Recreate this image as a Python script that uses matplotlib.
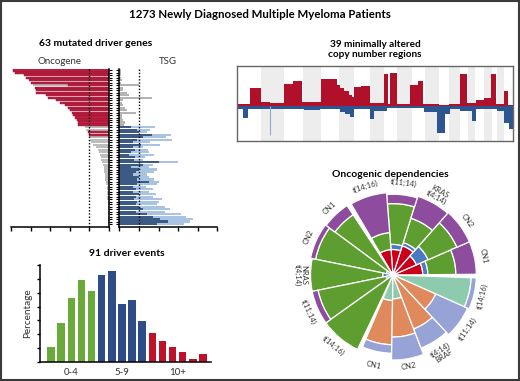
import numpy as np
import matplotlib
matplotlib.use("Agg")
import matplotlib.pyplot as plt
from matplotlib.patches import Rectangle

plt.rcParams['font.family'] = ['Lato', 'DejaVu Sans']

# ---------------- data ----------------
# 63 driver genes: oncogene score (left) and TSG score (right), top to bottom
onc_total = [4.9, 4.8, 4.35, 4.25, 4.1, 4.0, 3.9, 3.8, 3.75, 3.7,
             3.2, 3.1, 2.7, 2.5, 2.25, 2.1, 2.0, 1.87, 1.84, 1.75,
             1.63, 1.58, 1.56, 1.24, 1.15, 1.07, 1.0, 1.0, 0.95, 0.9,
             0.82, 0.65, 0.56, 0.5, 0.48, 0.4, 0.4, 0.34, 0.3, 0.27,
             0.25, 0.25, 0.22, 0.2, 0.18, 0.15, 0.15, 0.12, 0.12, 0.1,
             0.1, 0.08, 0.08, 0.06, 0.06, 0.05, 0.05, 0.05, 0.04, 0.04,
             0.03, 0.03, 0.03]
onc_red = [4.9, 4.8, 4.35, 4.25, 4.1, 4.0, 2.1, 3.8, 3.75, 3.7,
           3.2, 3.1, 2.7, 2.5, 2.25, 2.1, 2.0, 1.87, 1.84, 1.75,
           1.63, 1.58, 1.56, 0, 0, 1.07, 1.0] + [0] * 36
tsg_light = [0.1, 0.08, 0.1, 0.1, 0.15, 0.1, 1.0, 0.2, 0.2, 0.4,
             0.5, 1.65, 0.2, 0.15, 0.2, 0.3, 0.4, 0.85, 0.15, 0.15,
             0.2, 0.3, 0.25,
             1.8, 1.57, 1.4, 2.66, 2.4, 2.7, 1.57, 2.1, 1.2, 1.45,
             1.5, 1.75, 1.3, 1.2, 3.0, 1.7, 1.5, 1.9, 1.75, 1.4,
             1.5, 1.75, 2.0, 1.9, 1.35, 1.7, 1.5, 1.85, 1.7, 2.2,
             2.0, 1.9, 2.35, 2.6, 2.35, 3.15, 3.4, 3.75, 3.6, 3.3]
tsg_dark = [0] * 23 + [
    0.6, 0.9, 1.0, 1.65, 1.2, 0.9, 0.7, 1.1, 0.7, 0.8,
    0.6, 0.5, 0.8, 0.75, 2.0, 1.2, 0.6, 1.0, 0.85, 0.7,
    1.0, 0.9, 1.5, 0.9, 0.7, 0.85, 0.7, 1.0, 0.85, 0.75,
    0.9, 0.85, 1.0, 1.2, 0.85, 1.4, 1.7, 2.1, 2.5, 1.9]

# driver events per patient (% of patients)
n_events = list(range(16))
pct_events = [2.2, 5.7, 9.2, 11.8, 10.2, 12.5, 13.2, 8.4, 8.9, 5.9,
              4.2, 3.0, 2.1, 1.5, 0.5, 1.2]
event_groups = ['0-4'] * 5 + ['5-9'] * 5 + ['10+'] * 6

# copy number profile along the genome (segment start, value)
gain_pos = [20, 60, 92, 120, 160, 188, 216, 272, 320, 330, 340, 355, 365,
            372, 392, 418, 460, 474, 480, 500, 540, 562, 578, 625, 655,
            688, 710, 738, 760, 782, 798, 820, 832, 848]
gain_val = [6, 56, 13, 10, 68, 76, 13, 81, 63, 55, 45, 35, 28,
            58, 62, 10, 96, 8, 100, 8, 65, 76, 6, 3, 6,
            96, 10, 18, 24, 98, 6, 45, 3, 3]
loss_pos = [20, 38, 52, 220, 270, 330, 345, 358, 372, 420, 430,
            470, 580, 620, 645, 660, 688, 725, 738, 800, 820, 835, 848]
loss_val = [10, 35, 8, 12, 10, 18, 25, 32, 8, 40, 15,
            5, 18, 80, 25, 10, 15, 45, 8, 15, 50, 70, 70]
spike_pos = [117.5]
spike_val = [87]
chrom_bands = [(92, 160), (218, 272), (325, 372), (420, 462), (500, 545),
               (583, 625), (655, 688), (712, 735), (760, 785), (800, 820)]

# oncogenic dependencies: three groups of five sectors
sector_labels = ['CN1', 'CN2', 'KRAS\nt(4;14)', 't(11;14)', 't(14;16)',
                 'CN1', 'CN2', 'NRAS\nt(4;14)', 't(11;14)', 't(14;16)',
                 'CN1', 'CN2', 't(4;14)\nBRAF', 't(11;14)', 't(14;16)']
sector_span = [23, 25, 24, 22, 26,
               20, 25, 23, 24, 29,
               22, 22, 22, 23, 22]
group_gap = [0.5, 3.0, 2.5]
# cumulative outer radius of each layer
kras_layers = {'#c8001c': [0.35, 0.30, 0.36, 0.30, 0.30],
               '#4b7ac0': [0.41, 0.45, 0.40, 0.36, 0.30],
               '#5e9e31': [0.74, 0.82, 0.70, 0.84, 0.50],
               '#8e4c9e': [0.98, 0.98, 0.97, 0.95, 0.97]}
nras_layers = {'#4b7ac0': [0.0, 0.08, 0.12, 0.08, 0.0],
               '#5e9e31': [0.85, 0.93, 0.97, 0.90, 0.97],
               '#8e4c9e': [0.98, 0.99, 0.97, 0.97, 0.97]}
braf_layers = {'#8ecbae': [0.30, 0.28, 0.0, 0.0, 0.92],
               '#e0895c': [0.82, 0.73, 0.68, 0.55, 0.92],
               '#97a2d6': [0.92, 1.0, 0.92, 0.96, 0.98]}

# ---------------- figure ----------------
W, H = 520, 381
fig = plt.figure(figsize=(W / 100, H / 100), dpi=100)
fig.patches.append(Rectangle((0.002, 0.003), 0.996, 0.994, transform=fig.transFigure,
                             fill=False, edgecolor='#3a3a3a', linewidth=1.5))


def px_axes(x0, y0, x1, y1, **kw):
    return fig.add_axes([x0 / W, 1 - y1 / H, (x1 - x0) / W, (y1 - y0) / H], **kw)


fig.text(0.5, 1 - 15 / H, '1273 Newly Diagnosed Multiple Myeloma Patients',
         ha='center', va='center', fontsize=8.3, fontweight='bold')

# ---- driver genes ----
rows = np.arange(len(onc_total))
axL = px_axes(11, 69, 109, 227)
axR = px_axes(119.3, 69, 217.3, 227)
axL.barh(rows, onc_total, height=0.85, color='#bdbdbd', linewidth=0)
axL.barh(rows, onc_red, height=0.85, color='#c21f3e', edgecolor='#7a1535', linewidth=0.3)
tsg_cols = ['#b3b3b3' if d == 0 else '#a9c4e2' for d in tsg_dark]
axR.barh(rows, tsg_light, height=0.85, color=tsg_cols, linewidth=0)
axR.barh(rows, tsg_dark, height=0.85, color='#3d5a85', linewidth=0)
for ax in (axL, axR):
    ax.set_ylim(63.2, -0.6)
    ax.axvline(1.0, color='black', linestyle=(0, (1, 1.3)), linewidth=1.0)
    ax.set_yticks(rows)
    ax.set_yticklabels([])
    ax.set_xticks(np.arange(6))
    ax.set_xticklabels([])
    ax.tick_params(axis='y', length=2.5, width=0.8, direction='out')
    ax.tick_params(axis='x', length=3, width=1, direction='out')
    ax.spines['top'].set_visible(False)
    for s in ax.spines.values():
        s.set_linewidth(1.1)
axL.set_xlim(5, 0)
axR.set_xlim(0, 5)
axL.spines['left'].set_visible(False)
axL.yaxis.tick_right()
axR.spines['right'].set_visible(False)

fig.text(96 / W, 1 - 43 / H, '63 mutated driver genes', ha='center', va='center',
         fontsize=7.5, fontweight='bold')
fig.text(59 / W, 1 - 61 / H, 'Oncogene', ha='center', va='center', fontsize=7, color='#333333')
fig.text(168 / W, 1 - 61 / H, 'TSG', ha='center', va='center', fontsize=7, color='#333333')

# ---- driver events histogram ----
axH = px_axes(40, 265, 211, 362)
group_cols = {'0-4': '#6aaa3a', '5-9': '#2e4d86', '10+': '#c0112b'}
axH.bar(n_events, pct_events, width=0.74, color=[group_cols[g] for g in event_groups])
axH.set_xlim(-1.09, 15.8)
axH.set_ylim(0, 14)
axH.set_yticks(np.arange(0, 15, 2))
axH.set_yticklabels([])
axH.set_xticks([2, 7, 12.5])
axH.set_xticklabels(['0-4', '5-9', '10+'], fontsize=7, color='#333333')
axH.tick_params(axis='x', length=0, pad=4)
axH.tick_params(axis='y', length=2.5, width=1)
for s in ('top', 'right'):
    axH.spines[s].set_visible(False)
for s in ('left', 'bottom'):
    axH.spines[s].set_linewidth(1.1)
axH.set_ylabel('Percentage', fontsize=7.2, color='#333333', labelpad=0)
fig.text(127 / W, 1 - 253 / H, '91 driver events', ha='center', va='center',
         fontsize=7.5, fontweight='bold')

# ---- copy number regions ----
axC = px_axes(237, 66, 513, 141)
for a, b in chrom_bands:
    axC.axvspan(a, b, color='#ededed', linewidth=0)
axC.fill_between(gain_pos, 0, gain_val, step='post', color='#b0102a', linewidth=0)
axC.fill_between(loss_pos, 0, -np.array(loss_val), step='post', color='#2d5592', linewidth=0)
axC.vlines(spike_pos, 0, -np.array(spike_val), color='#9aa8c4', linewidth=0.8)
axC.set_xlim(20, 848)
axC.set_ylim(-105, 121)
axC.set_xticks([])
axC.set_yticks([])
for s in axC.spines.values():
    s.set_edgecolor('#666666')
    s.set_linewidth(1)
fig.text(375 / W, 1 - 49.5 / H, '39 minimally altered\ncopy number regions', ha='center',
         va='center', fontsize=7.2, fontweight='bold', linespacing=1.1)

# ---- oncogenic dependencies ----
axP = px_axes(308, 190, 478, 360, projection='polar')
axP.set_theta_zero_location('E')
axP.set_ylim(0, 1)
axP.axis('off')

starts = []
pos = 0
for g in range(3):
    pos += group_gap[g]
    for k in range(5):
        starts.append(pos)
        pos += sector_span[g * 5 + k]
starts = np.array(starts)
spans = np.array(sector_span, dtype=float)
mids = starts + spans / 2

for g, layers in enumerate((kras_layers, nras_layers, braf_layers)):
    sl = slice(g * 5, g * 5 + 5)
    inner = np.zeros(5)
    for col, outer in layers.items():
        outer = np.array(outer)
        h = outer - inner
        keep = h > 0
        axP.bar(np.radians(mids[sl])[keep], h[keep], bottom=inner[keep],
                width=np.radians(spans[sl])[keep], color=col,
                edgecolor='white', linewidth=0.9)
        inner = np.maximum(inner, outer)

for lab, m in zip(sector_labels, mids):
    rot = m - 90 if m < 180 else m + 90
    axP.text(np.radians(m), 1.085, lab, ha='center', va='center', rotation=rot,
             rotation_mode='anchor', fontsize=5.5, color='#333333',
             linespacing=0.95, clip_on=False)

fig.text(390 / W, 1 - 174 / H, 'Oncogenic dependencies', ha='center', va='center',
         fontsize=7.5, fontweight='bold')

fig.savefig('out.png', dpi=100)
